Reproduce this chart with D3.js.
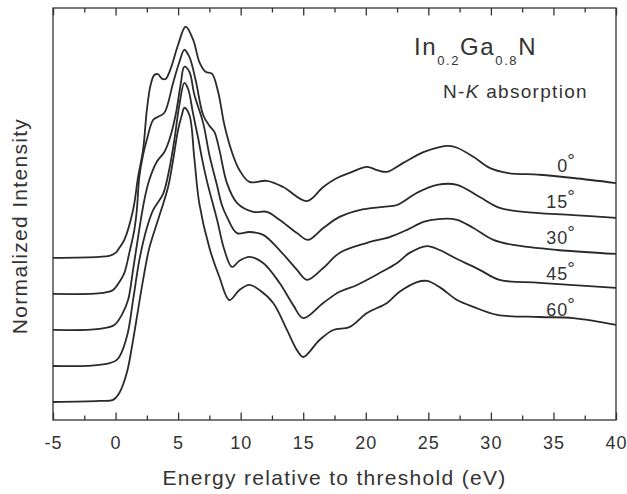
<!DOCTYPE html>
<html>
<head>
<meta charset="utf-8">
<script src="https://cdn.jsdelivr.net/npm/d3@7/dist/d3.min.js"></script>
<style>
  body { margin: 0; background: #fff; }
  text { font-family: "Liberation Sans", Arial, sans-serif; fill: #333; }
</style>
</head>
<body>
<svg id="chart" width="627" height="494"></svg>
<script>
// N-K absorption spectra, [energy (eV), normalized intensity above baseline]
const angles = ['0', '15', '30', '45', '60'];
const offsets = [4.5, 3.5, 2.5, 1.5, 0.5];

const spec0 = [[-5,0],[-1.3,0.03],[-0.5,0.06],[0,0.14],[0.3,0.28],[0.7,0.5],[1.4,1.33],[1.8,2.25],
  [2.2,3.0],[2.5,4.1],[2.8,4.8],[3.1,5.08],[3.4,5.1],[3.7,4.98],[4.0,4.97],[4.4,5.25],[5.0,5.92],[5.6,6.42],
  [6.2,6.06],[6.7,5.44],[7.2,5.17],[7.7,5.12],[8.2,4.61],[8.7,3.69],[9.3,2.94],[9.9,2.44],[10.7,2.11],
  [12.1,2.14],[13.4,1.97],[15.3,1.58],[16.6,1.97],[17.7,2.22],[18.7,2.36],[20.1,2.53],[20.9,2.44],
  [21.7,2.39],[23.0,2.64],[24.6,2.94],[25.9,3.08],[26.6,3.11],[27.3,3.06],[28.6,2.81],[29.9,2.5],
  [31.3,2.36],[33.9,2.31],[36.6,2.22],[40,2.08]];

const spec15 = [[-5,0],[-1.0,0.03],[-0.2,0.11],[0.3,0.33],[0.7,0.58],[1.1,1.14],[1.5,1.78],[1.7,2.33],
  [1.9,3.25],[2.2,3.86],[2.5,4.28],[3.0,4.83],[3.4,4.92],[3.9,5.03],[4.6,5.86],[5.1,6.44],[5.5,6.78],
  [5.9,6.58],[6.4,5.94],[7.0,4.97],[7.5,4.67],[7.9,4.5],[8.3,4.0],[8.9,3.08],[9.7,2.53],[11.0,2.28],
  [12.1,2.28],[13.1,2.06],[14.5,1.69],[15.4,1.5],[16.6,1.83],[17.9,2.14],[19.5,2.33],[21.4,2.42],
  [22.5,2.47],[24.1,2.81],[25.7,3.03],[27.3,3.03],[29.1,2.69],[30.7,2.39],[32.6,2.28],[36.6,2.19],[40,2.11]];

const spec30 = [[-5,0],[-1.3,0.03],[-0.1,0.14],[0.5,0.42],[1.0,0.83],[1.4,1.67],[1.8,2.58],[2.3,3.61],
  [2.7,4.17],[3.3,4.67],[3.9,4.94],[4.3,5.28],[4.8,5.97],[5.2,6.81],[5.5,7.31],[5.9,7.17],[6.3,6.53],
  [7.0,5.75],[7.5,4.86],[8.1,4.03],[8.5,3.47],[8.9,3.14],[9.7,2.69],[10.7,2.72],[11.8,2.64],[13.1,2.22],
  [14.5,1.67],[15.3,1.39],[16.6,1.72],[17.9,2.14],[20.1,2.42],[21.9,2.58],[23.3,2.78],[24.6,3.0],
  [25.8,3.08],[27.3,3.06],[28.6,2.83],[30.2,2.5],[31.8,2.36],[35.3,2.22],[40,2.11]];

const spec45 = [[-5,0],[-1.3,0.03],[0.1,0.17],[0.9,0.81],[1.4,1.83],[1.9,2.94],[2.5,3.83],[3.0,4.33],
  [3.8,4.78],[4.3,5.47],[4.7,6.28],[5.1,7.25],[5.5,7.86],[5.8,7.69],[6.2,7.0],[6.6,6.33],[6.9,5.78],
  [7.3,5.14],[8.1,4.08],[8.7,3.22],[9.3,2.75],[9.9,2.92],[10.7,3.03],[11.8,2.86],[13.1,2.31],[14.2,1.69],
  [15.0,1.33],[16.6,1.75],[17.9,2.06],[19.3,2.25],[21.1,2.58],[22.5,2.86],[23.5,3.14],[24.9,3.33],
  [25.9,3.22],[27.3,2.97],[29.1,2.67],[30.7,2.39],[33.9,2.31],[40,2.17]];

const spec60 = [[-5,0],[-1.3,0.03],[-0.2,0.06],[0.3,0.25],[0.9,0.81],[1.4,1.72],[1.8,2.56],[2.2,3.39],
  [2.7,4.28],[3.5,5.17],[4.2,5.97],[4.6,6.72],[5.0,7.56],[5.3,7.97],[5.5,8.17],[5.9,7.97],[6.3,6.75],
  [6.7,5.5],[7.5,4.28],[8.3,3.47],[9.1,2.83],[9.9,3.11],[10.7,3.25],[11.5,3.11],[12.6,2.75],[13.7,2.0],
  [14.5,1.44],[15.0,1.25],[16.3,1.72],[17.4,2.0],[18.7,2.08],[20.1,2.47],[21.7,2.75],[22.7,3.06],
  [24.1,3.33],[24.9,3.36],[25.9,3.19],[27.3,2.83],[28.6,2.64],[30.5,2.42],[33.9,2.36],[36.6,2.33],[40,2.14]];

const spectra = [spec0, spec15, spec30, spec45, spec60];
const xTicks = [-5, 0, 5, 10, 15, 20, 25, 30, 35, 40];
const xMinorTicks = [-2.5, 2.5, 7.5, 12.5, 17.5, 22.5, 27.5, 32.5, 37.5];

const svg = d3.select('#chart');
const margin = {left: 53, top: 8, right: 11, bottom: 74};
const width = +svg.attr('width') - margin.left - margin.right;
const height = +svg.attr('height') - margin.top - margin.bottom;

const x = d3.scaleLinear().domain([-5, 40]).range([0, width]);
const y = d3.scaleLinear().domain([0, 11.44]).range([height, 0]);

const g = svg.append('g').attr('transform', `translate(${margin.left},${margin.top})`);

// curves
const line = d3.line()
  .x(d => x(d[0]))
  .curve(d3.curveCatmullRom.alpha(0.5));

spectra.forEach((s, i) => {
  g.append('path')
    .datum(s)
    .attr('fill', 'none')
    .attr('stroke', '#2a2a2a')
    .attr('stroke-width', 1.8)
    .attr('d', line.y(d => y(d[1] + offsets[i])));
});

// axes (ticks inside, top and bottom)
const axBottom = g.append('g').attr('transform', `translate(0,${height})`)
  .call(d3.axisBottom(x).tickValues(xTicks).tickSize(-7.5).tickPadding(16).tickFormat(d3.format('d')));
const axBottomMinor = g.append('g').attr('transform', `translate(0,${height})`)
  .call(d3.axisBottom(x).tickValues(xMinorTicks).tickSize(-4.5).tickFormat(''));
const axTop = g.append('g')
  .call(d3.axisTop(x).tickValues(xTicks).tickSize(-7.5).tickFormat(''));
const axTopMinor = g.append('g')
  .call(d3.axisTop(x).tickValues(xMinorTicks).tickSize(-4.5).tickFormat(''));

[axBottom, axBottomMinor, axTop, axTopMinor].forEach(a => {
  a.select('.domain').remove();
  a.selectAll('line').attr('stroke', '#333').attr('stroke-width', 1.3);
});
axBottom.selectAll('text')
  .attr('font-size', 18)
  .attr('letter-spacing', 1)
  .attr('fill', '#333')
  .text(d => d < 0 ? '-' + Math.abs(d) : d);

g.append('rect')
  .attr('width', width).attr('height', height)
  .attr('fill', 'none').attr('stroke', '#333').attr('stroke-width', 1.3);

// angle labels
angles.forEach((a, i) => {
  const t = g.append('text')
    .attr('x', x(36.8))
    .attr('y', y(offsets[i] + 2.4))
    .attr('text-anchor', 'end')
    .attr('font-size', 18)
    .attr('letter-spacing', 1);
  t.append('tspan').text(a);
  t.append('tspan').attr('font-size', 19).attr('dy', -5).attr('dx', -1).text('°');
});

// title
const title = g.append('text')
  .attr('x', 414 - margin.left).attr('y', 47)
  .attr('font-size', 24).attr('letter-spacing', 1.6);
title.append('tspan').text('In');
title.append('tspan').attr('font-size', 13).attr('dy', 10).text('0.2');
title.append('tspan').attr('dy', -10).text('Ga');
title.append('tspan').attr('font-size', 13).attr('dy', 10).text('0.8');
title.append('tspan').attr('dy', -10).text('N');

const sub = g.append('text')
  .attr('x', 443 - margin.left).attr('y', 90)
  .attr('font-size', 19).attr('letter-spacing', 1.3);
sub.append('tspan').text('N-');
sub.append('tspan').attr('font-style', 'italic').text('K');
sub.append('tspan').text(' absorption');

// axis titles
svg.append('text')
  .attr('x', margin.left + width / 2).attr('y', 485)
  .attr('text-anchor', 'middle')
  .attr('font-size', 21).attr('letter-spacing', 1.3)
  .text('Energy relative to threshold (eV)');

svg.append('text')
  .attr('transform', `translate(27,226) rotate(-90)`)
  .attr('text-anchor', 'middle')
  .attr('font-size', 21).attr('letter-spacing', 1.3)
  .text('Normalized Intensity');
</script>
</body>
</html>
